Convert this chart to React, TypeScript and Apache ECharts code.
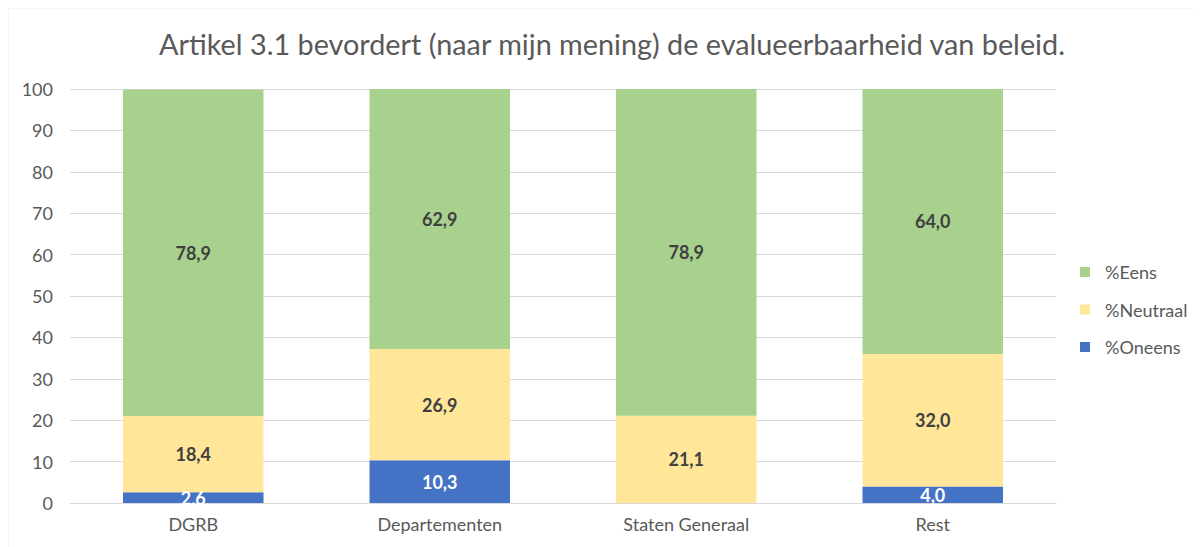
import React, { useEffect, useRef } from "react";
import * as echarts from "echarts";

const categories = ["DGRB", "Departementen", "Staten Generaal", "Rest"];
const oneens = [2.6, 10.3, 0, 4.0];
const neutraal = [18.4, 26.9, 21.1, 32.0];
const eens = [78.9, 62.9, 78.9, 64.0];
const yTicks = { min: 0, max: 100, interval: 10 };

const FONT = "Lato, 'Open Sans', sans-serif";
const fmt = (v: number) => v.toFixed(1).replace(".", ",");

export default function App() {
  const ref = useRef<HTMLDivElement>(null);
  useEffect(() => {
    const chart = echarts.init(ref.current!, undefined, { renderer: "svg" });
    const labelDark = {
      show: true,
      position: "inside" as const,
      fontFamily: FONT,
      fontWeight: "bold" as const,
      fontSize: 18,
      color: "#404040",
      formatter: (p: any) => (p.value > 0 ? fmt(p.value) : ""),
    };
    chart.setOption({
      animation: false,
      textStyle: { fontFamily: FONT },
      title: {
        text: "Artikel 3.1 bevordert (naar mijn mening) de evalueerbaarheid van beleid.",
        left: 599,
        textAlign: "center",
        top: 16,
        textStyle: { fontFamily: FONT, fontSize: 28.8, fontWeight: "normal", color: "#595959" },
      },
      graphic: [
        {
          type: "rect",
          shape: { x: -0.5, y: -0.5, width: 1300, height: 700 },
          style: { fill: "none", stroke: "#d9d9d9", lineWidth: 1.5 },
          silent: true,
        },
      ],
      legend: {
        orient: "vertical",
        left: 1067,
        top: 250,
        itemWidth: 10,
        itemHeight: 10,
        itemGap: 19.5,
        icon: "rect",
        textStyle: { fontFamily: FONT, fontSize: 18, color: "#595959", padding: [0, 0, 0, 10] },
        data: ["%Eens", "%Neutraal", "%Oneens"],
      },
      grid: { left: 62, top: 81, width: 986, height: 414 },
      xAxis: {
        type: "category",
        data: categories,
        axisTick: { show: false },
        axisLine: { lineStyle: { color: "#d9d9d9" } },
        axisLabel: { fontFamily: FONT, fontSize: 18, color: "#595959", margin: 12 },
      },
      yAxis: {
        type: "value",
        min: yTicks.min,
        max: yTicks.max,
        interval: yTicks.interval,
        axisLine: { show: false },
        axisTick: { show: false },
        splitLine: { lineStyle: { color: "#d9d9d9" } },
        axisLabel: { fontFamily: FONT, fontSize: 18, color: "#595959", margin: 17 },
      },
      series: [
        {
          name: "%Oneens",
          type: "bar",
          stack: "a",
          data: oneens,
          barWidth: "57%",
          itemStyle: { color: "#4472C4" },
          label: { ...labelDark, color: "#ffffff" },
        },
        {
          name: "%Neutraal",
          type: "bar",
          stack: "a",
          data: neutraal,
          itemStyle: { color: "#FFE699" },
          label: labelDark,
        },
        {
          name: "%Eens",
          type: "bar",
          stack: "a",
          data: eens,
          itemStyle: { color: "#A9D18E" },
          label: labelDark,
        },
      ],
    });
    return () => chart.dispose();
  }, []);
  return <div ref={ref} style={{ width: 1195, height: 539 }} />;
}
